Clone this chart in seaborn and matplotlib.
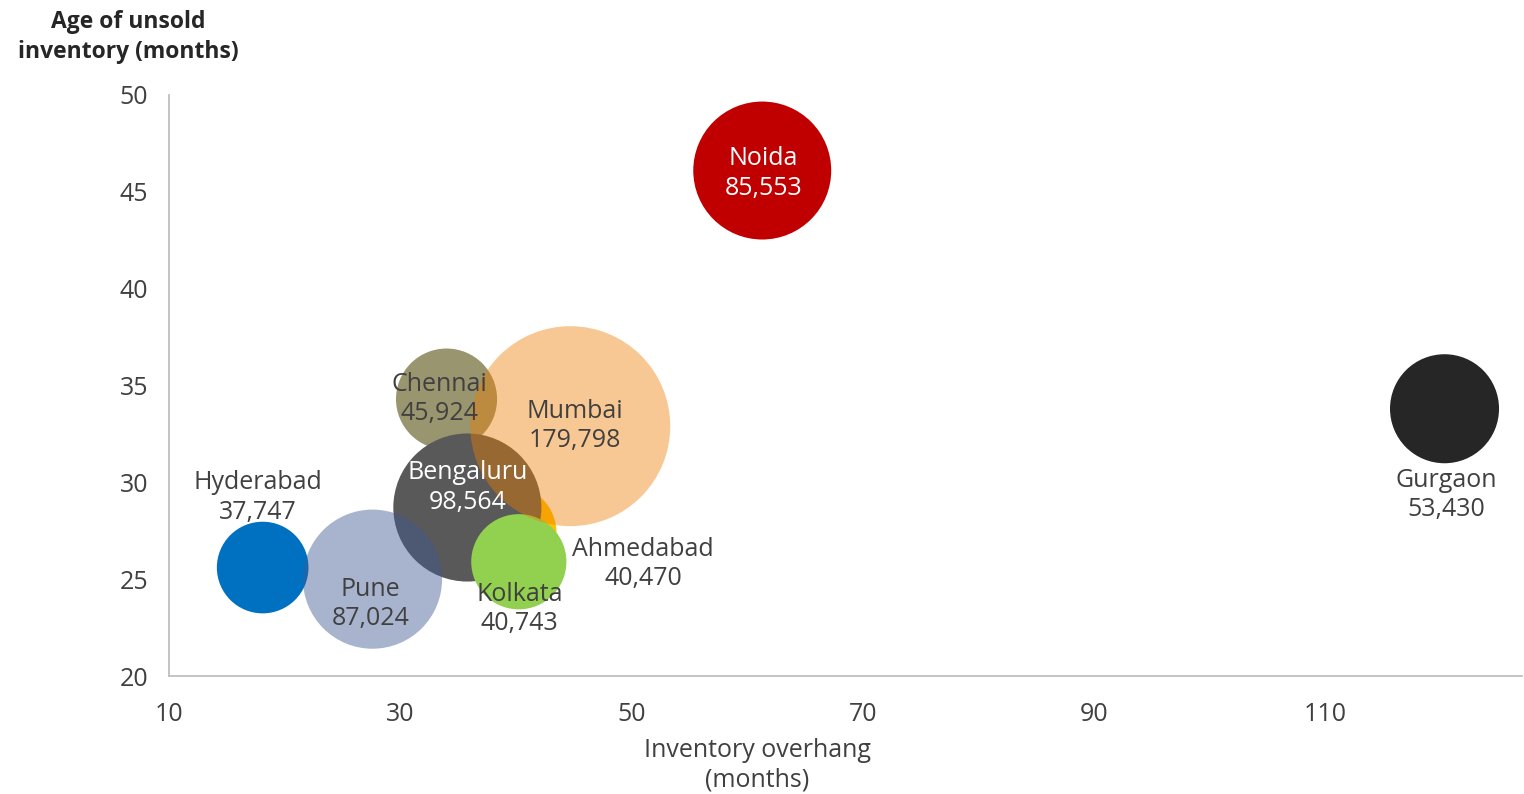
import matplotlib
matplotlib.use("Agg")
import matplotlib.pyplot as plt
import seaborn as sns
import pandas as pd

# ---- data ----
cities = ["Hyderabad", "Chennai", "Ahmedabad", "Bengaluru", "Pune", "Kolkata", "Mumbai", "Noida", "Gurgaon"]
overhang = [18.1, 34.0, 39.4, 35.8, 27.6, 40.25, 44.7, 61.3, 120.3]      # x, months
age = [25.6, 34.3, 27.4, 28.7, 25.0, 25.9, 32.9, 46.1, 33.8]            # y, months
units = [37747, 45924, 40470, 98564, 87024, 40743, 179798, 85553, 53430]  # bubble size
unit_labels = ["37,747", "45,924", "40,470", "98,564", "87,024", "40,743", "179,798", "85,553", "53,430"]
x_ticks = [10, 30, 50, 70, 90, 110]
y_ticks = [20, 25, 30, 35, 40, 45, 50]

# ---- styles ----
colors = {
    "Hyderabad": ("#0070C0", 1.0),
    "Chennai": ("#98956F", 1.0),
    "Ahmedabad": ("#FFC000", 1.0),
    "Bengaluru": ("#595959", 1.0),
    "Pune": ("#3F5A94", 0.45),
    "Kolkata": ("#92D050", 1.0),
    "Mumbai": ("#F07E00", 0.42),
    "Noida": ("#C00000", 1.0),
    "Gurgaon": ("#262626", 1.0),
}
# label offsets in pixels (dx right, dy down) and text colour
label_style = {
    "Hyderabad": (-5, -70, "#404040"),
    "Chennai": (-7, 0, "#404040"),
    "Ahmedabad": (134, 31, "#404040"),
    "Bengaluru": (0, -20, "white"),
    "Pune": (-2, 25, "#404040"),
    "Kolkata": (1, 47, "#404040"),
    "Mumbai": (5, 0, "#404040"),
    "Noida": (1, 3, "white"),
    "Gurgaon": (2, 86, "#404040"),
}

df = pd.DataFrame({"city": cities, "overhang": overhang, "age": age, "units": units, "label": unit_labels})

sns.set_style("white")
plt.rcParams["font.family"] = ["Open Sans", "DejaVu Sans"]

DPI = 100
fig = plt.figure(figsize=(15.24, 7.94), dpi=DPI)
ax = fig.add_axes([169 / 1524, 1 - 676 / 794, (1522 - 169) / 1524, (676 - 95) / 794])

# Mumbai bubble diameter ~200 px -> 144 pt -> area 20736 pt^2
max_units = max(units)
max_area = (200 * 72 / DPI) ** 2

for i, row in df.iterrows():
    col, a = colors[row.city]
    sns.scatterplot(data=df.iloc[[i]], x="overhang", y="age", size="units",
                    sizes=(0, max_area), size_norm=(0, max_units),
                    color=col, alpha=a, edgecolor="none", linewidth=0,
                    legend=False, ax=ax, zorder=2 + i)

for _, row in df.iterrows():
    dx, dy, tc = label_style[row.city]
    ax.annotate(f"{row.city}\n{row.label}", xy=(row.overhang, row.age),
                xytext=(dx * 72 / DPI, -dy * 72 / DPI), textcoords="offset points",
                ha="center", va="center", fontsize=18, color=tc,
                linespacing=1.22, zorder=20)

ax.set_xlim(10, 127)
ax.set_ylim(20, 50)
ax.set_xticks(x_ticks)
ax.set_yticks(y_ticks)

for s in ["top", "right"]:
    ax.spines[s].set_visible(False)
for s in ["left", "bottom"]:
    ax.spines[s].set_color("#BFBFBF")
    ax.spines[s].set_linewidth(1.3)
ax.tick_params(axis="both", which="both", direction="out", length=6, width=1.3,
               color="#BFBFBF", labelcolor="#404040", labelsize=18)
ax.tick_params(axis="y", pad=9)
ax.tick_params(axis="x", pad=13)
ax.grid(False)

ax.set_xlabel("Inventory overhang\n(months)", fontsize=18, color="#404040", linespacing=1.22)
ax.xaxis.label.set_va("center")
ax.xaxis.set_label_coords((757 - 169) / (1522 - 169), -(765 - 676) / (676 - 95))
ax.set_ylabel("")

fig.text(128 / 1524, 1 - 37 / 794, "Age of unsold\ninventory (months)", ha="center", va="center",
         fontsize=16.5, fontweight="bold", color="#262626", linespacing=1.3)

fig.savefig("out.png", dpi=DPI)
